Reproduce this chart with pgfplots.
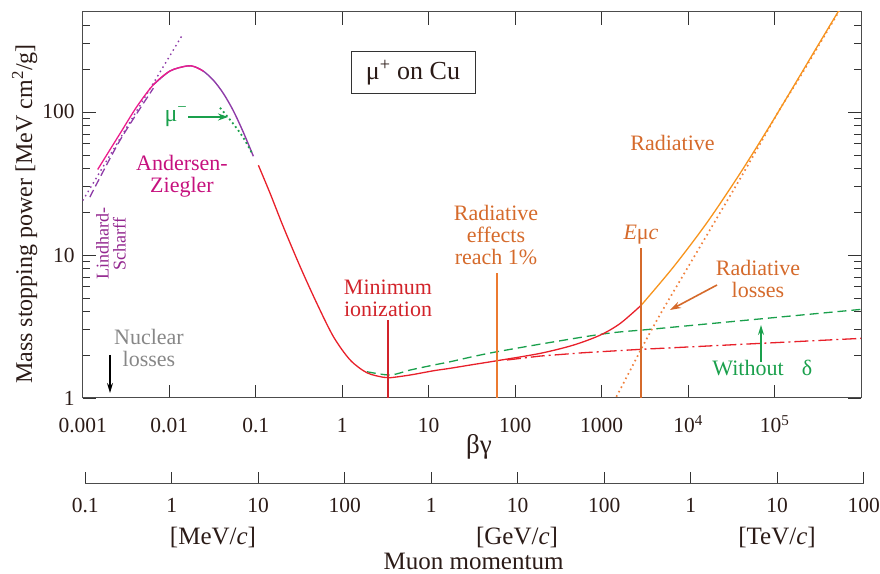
\documentclass[border=0pt]{standalone}
\usepackage{fontspec}
\setmainfont{Liberation Serif}
\usepackage{pgfplots}
\pgfplotsset{compat=1.18}
\usetikzlibrary{arrows.meta}
\definecolor{txt}{HTML}{2B1B17}
\definecolor{cred}{HTML}{E8202A}
\definecolor{tred}{HTML}{D2232A}
\definecolor{cpink}{HTML}{EC1C8C}
\definecolor{tpink}{HTML}{C6117E}
\definecolor{cpurple}{HTML}{8E3CA8}
\definecolor{tpurple}{HTML}{93278F}
\definecolor{cgreen}{HTML}{1AA04C}
\definecolor{corange}{HTML}{F7941D}
\definecolor{dorange}{HTML}{F0803C}
\definecolor{torange}{HTML}{D56A2B}
\definecolor{lorange}{HTML}{EC7A30}
\definecolor{cgray}{HTML}{878787}
\newcommand\fa{\fontsize{21.5bp}{24bp}\selectfont}
\newcommand\fb{\fontsize{25bp}{28bp}\selectfont}
\newcommand\fy{\fontsize{24bp}{28bp}\selectfont}
\newcommand\fc{\fontsize{22bp}{22bp}\selectfont}
\newcommand\fd{\fontsize{18bp}{17bp}\selectfont}
\begin{document}
\begin{tikzpicture}[x=1bp,y=1bp]
\useasboundingbox (0,0) rectangle (880,574);
\begin{axis}[
  at={(82.7bp,176bp)}, anchor=south west, scale only axis,
  width=778.5bp, height=386bp,
  xmode=log, ymode=log,
  xmin=1e-3, xmax=1e6, ymin=1, ymax=500,
  xtick={1e-3,1e-2,1e-1,1,10,100,1000,1e4,1e5},
  xticklabels={0.001,0.01,0.1,1,10,100,1000,10\textsuperscript{4},10\textsuperscript{5}},
  ytick={1,10,100}, yticklabels={1,10,100},
  minor ytick={2,3,4,5,6,7,8,9,20,30,40,50,60,70,80,90,200,300,400},
  xminorticks=false,
  tick align=inside, xtick pos=both, ytick pos=both,
  major tick length=13bp, minor tick length=7bp,
  axis line style={black!70, line width=1bp},
  every tick/.style={black!80, line width=0.8bp},
  ticklabel style={font=\fa, text=txt},
  /pgf/number format/assume math mode=true,
  xticklabel style={anchor=base, yshift=-34.7bp},
  yticklabel style={anchor=east, xshift=-4.5bp},
]
% Lindhard-Scharff (dotted)
\addplot[cpurple, line width=1.4bp, dash pattern=on 1.5bp off 3.5bp] coordinates {(0.001,24.0) (0.0141,343)};
% purple dashed rising
\addplot[cpurple, line width=1.3bp, dash pattern=on 8bp off 4bp, smooth] coordinates {(0.00121,25.4) (0.0027,63.4) (0.00656,146.5)};
% purple solid under AZ
\addplot[cpurple, line width=1.4bp, smooth] coordinates {(0.00656,154.9) (0.01023,193.5) (0.01596,209.6) (0.0195,207.5) (0.02483,192.9) (0.03243,166.6) (0.04227,134.8) (0.05521,101.8) (0.07211,71.9) (0.09397,49.0)};
% Andersen-Ziegler
\addplot[cpink, line width=1.3bp, smooth] coordinates {(0.00149,39.6) (0.0027,70.6) (0.00422,108.8) (0.00656,154.9) (0.01023,193.5) (0.01596,209.6) (0.0195,207.5) (0.02483,192.9)};
% mu minus
\addplot[cgreen, line width=1.8bp, dash pattern=on 1.8bp off 3bp, smooth] coordinates {(0.0387,107) (0.0533,84.7) (0.0714,66.6) (0.092,50.5)};
% Without delta (green dashed)
\addplot[cgreen, line width=1.3bp, dash pattern=on 9bp off 5bp, smooth] coordinates {(1.928,1.527) (3.59,1.448) (6.11,1.569) (11.4,1.70) (17.7,1.793) (61.5,2.106) (964,2.786) (4764,3.068) (1e6,4.165)};
% red dash-dot (ionization only)
\addplot[cred, line width=1.3bp, dash pattern=on 14bp off 4bp on 2bp off 4bp] coordinates {(80.3,1.844) (195,1.965) (618,2.073) (2797,2.188) (1e6,2.612)};
% radiative losses (dotted orange)
\addplot[dorange, line width=1.7bp, dash pattern=on 1.6bp off 3.4bp, smooth] coordinates {(1390,0.95) (2143,1.569) (3028,2.346) (4764,3.863) (8110,6.674) (13830,11.53) (23560,19.93) (40100,34.4) (68350,60.4) (116500,106.1) (198300,178) (517500,472) (560000,510)};
% Bethe (red solid)
\addplot[cred, line width=1.3bp, smooth] coordinates {(0.1074,42.4) (0.147,26.9) (0.209,15.7) (0.327,8.27) (0.509,4.59) (0.793,2.68) (1.236,1.844) (1.928,1.502) (3.0,1.395) (3.59,1.386) (6.11,1.448) (11.4,1.551) (17.7,1.613) (32.7,1.714) (61.5,1.822) (195,2.052) (473,2.345) (964,2.754) (1641,3.325) (2870,4.46)};
% total with radiative (orange solid)
\addplot[corange, line width=1.3bp, smooth] coordinates {(2870,4.46) (6790,8.28) (16520,16.87) (40100,37.5) (100000,91) (316000,292) (560000,520)};
% vertical markers
\addplot[tred, line width=2.2bp] coordinates {(3.40,1) (3.40,3.51)};
\addplot[lorange, line width=2bp] coordinates {(61.5,1) (61.5,7.47)};
\addplot[torange, line width=2bp] coordinates {(2870,1) (2870,11.16)};
\end{axis}
% momentum axis
\begin{axis}[
  at={(85.2bp,90bp)}, anchor=south west, scale only axis,
  width=778.5bp, height=20bp,
  xmode=log, xmin=0.1, xmax=1e8, ymin=0, ymax=1,
  axis x line*=bottom, axis y line=none,
  x axis line style={-, black!70, line width=1bp},
  xtick={0.1,1,10,100,1e3,1e4,1e5,1e6,1e7,1e8},
  xticklabels={0.1,1,10,100,1,10,100,1,10,100},
  xminorticks=false, tick align=inside, major tick length=12bp,
  every tick/.style={black!80, line width=0.8bp},
  xticklabel style={font=\fa, text=txt, anchor=base, yshift=-28.7bp},
]
\addplot[draw=none] coordinates {(1,0.5)};
\end{axis}
% axis labels
\node[font=\fy, text=txt, rotate=90, anchor=base] at (32,360) {Mass stopping power [MeV cm\textsuperscript{2}/g]};
\node[font=\fontsize{27bp}{28bp}\selectfont, text=txt, anchor=base] at (479,120) {βγ};
\node[font=\fb, text=txt, anchor=base] at (213,29.7) {[MeV/\textit{c}]};
\node[font=\fb, text=txt, anchor=base] at (517,29.7) {[GeV/\textit{c}]};
\node[font=\fb, text=txt, anchor=base] at (777,29.7) {[TeV/\textit{c}]};
\node[font=\fb, text=txt, anchor=base] at (473.5,4.5) {Muon momentum};
% title box
\node[draw=black!80, line width=1bp, fill=white, font=\fontsize{26bp}{28bp}\selectfont, text=txt, minimum width=124bp, minimum height=42bp] at (413,501) {μ\textsuperscript{+} on Cu};
% annotations
\node[font=\fc, text=tpink, align=center] at (182,398) {Andersen-\\Ziegler};
\node[font=\fontsize{24bp}{24bp}\selectfont, text=cgreen] at (176,457) {μ\textsuperscript{−}};
\draw[cgreen, line width=1.4bp, -{Stealth[length=10bp,width=7bp]}] (188,457) -- (228,457);
\node[font=\fd, text=tpurple, align=center, rotate=90] at (111,330) {Lindhard-\\Scharff};
\node[font=\fc, text=cgray, align=center] at (149,226) {Nuclear\\losses};
\draw[black, line width=1.2bp, -{Stealth[length=10bp,width=6bp]}] (110,219) -- (110,181);
\node[font=\fc, text=tred, align=center] at (388,276) {Minimum\\ionization};
\node[font=\fc, text=torange, align=center] at (496,339) {Radiative\\effects\\reach 1\%};
\node[font=\fc, text=torange] at (641,339) {\textit{E}μ\textit{c}};
\node[font=\fc, text=torange] at (672.5,431) {Radiative};
\node[font=\fc, text=torange, align=center] at (758,295) {Radiative\\losses};
\draw[torange, line width=1.6bp, -{Stealth[length=11bp,width=7bp]}] (717,289) -- (670,264);
\node[font=\fc, text=cgreen] at (748,206) {Without};
\node[font=\fc, text=cgreen] at (807,206) {δ};
\draw[cgreen, line width=1.4bp, -{Stealth[length=10bp,width=6bp]}] (761,212) -- (761,249);
\end{tikzpicture}
\end{document}
